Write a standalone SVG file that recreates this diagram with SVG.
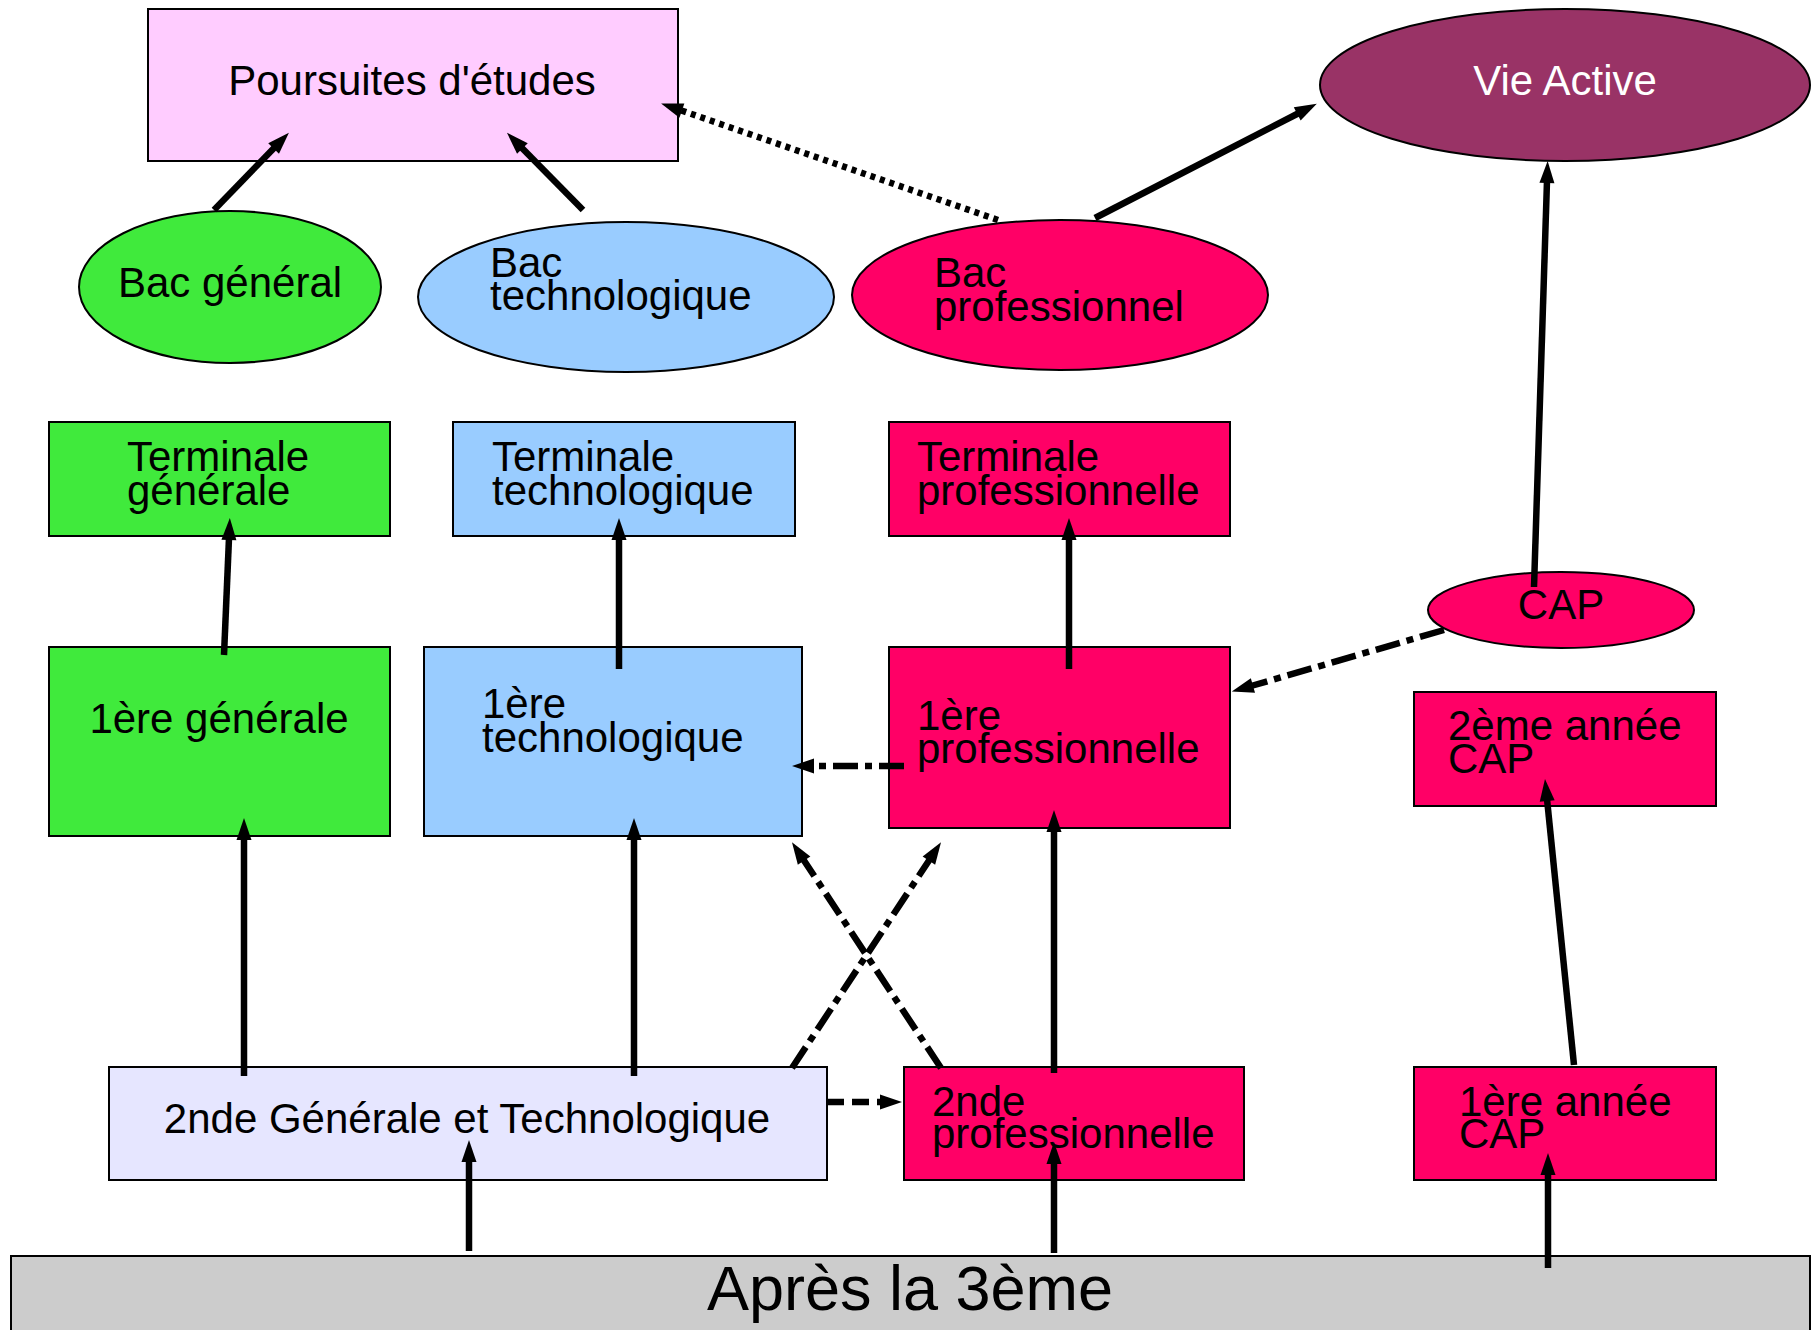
<svg xmlns="http://www.w3.org/2000/svg" width="1812" height="1330" viewBox="0 0 1812 1330">
<style>
.n{stroke:#000;stroke-width:2}
.t{font-family:"Liberation Sans",Arial,sans-serif;font-size:42px;fill:#000}
.c{text-anchor:middle}
.w{fill:#fff}
.e{fill:none;stroke:#000;stroke-width:6.5;marker-end:url(#ah)}
.dot{stroke-dasharray:5 5}
.dd{stroke-dasharray:25 7 7 7}
.dash{stroke-dasharray:17 8}
.green{fill:#40ea3c}.blue{fill:#99ccff}.pink{fill:#ff0066}
</style>
<defs>
<marker id="ah" markerUnits="userSpaceOnUse" markerWidth="24" markerHeight="16" refX="2" refY="7.5" orient="auto" overflow="visible">
<path d="M0,0 L22,7.5 L0,15 z" fill="#000"/>
</marker>
</defs>
<rect width="1812" height="1330" fill="#fff"/>
<g id="poursuites"><rect class="n" x="148" y="9" width="530" height="152" fill="#ffccff"/><text class="t c" x="412" y="95">Poursuites d'études</text></g>
<g id="vie-active"><ellipse class="n" cx="1565" cy="85" rx="245" ry="76" fill="#993366"/><text class="t c w" x="1565" y="95">Vie Active</text></g>
<g id="bac-general"><ellipse class="n green" cx="230" cy="287" rx="151" ry="76"/><text class="t c" x="230" y="297">Bac général</text></g>
<g id="bac-techno"><ellipse class="n blue" cx="626" cy="297" rx="208" ry="75"/><text class="t" x="490" y="277">Bac</text><text class="t" x="490" y="310">technologique</text></g>
<g id="bac-pro"><ellipse class="n pink" cx="1060" cy="295" rx="208" ry="75"/><text class="t" x="934" y="287">Bac</text><text class="t" x="934" y="321">professionnel</text></g>
<g id="term-gen"><rect class="n green" x="49" y="422" width="341" height="114"/><text class="t" x="127" y="471">Terminale</text><text class="t" x="127" y="505">générale</text></g>
<g id="term-techno"><rect class="n blue" x="453" y="422" width="342" height="114"/><text class="t" x="492" y="471">Terminale</text><text class="t" x="492" y="505">technologique</text></g>
<g id="term-pro"><rect class="n pink" x="889" y="422" width="341" height="114"/><text class="t" x="917" y="471">Terminale</text><text class="t" x="917" y="505">professionnelle</text></g>
<g id="premiere-gen"><rect class="n green" x="49" y="647" width="341" height="189"/><text class="t c" x="219" y="733">1ère générale</text></g>
<g id="premiere-techno"><rect class="n blue" x="424" y="647" width="378" height="189"/><text class="t" x="482" y="718">1ère</text><text class="t" x="482" y="752">technologique</text></g>
<g id="premiere-pro"><rect class="n pink" x="889" y="647" width="341" height="181"/><text class="t" x="917" y="730">1ère</text><text class="t" x="917" y="763">professionnelle</text></g>
<g id="cap"><ellipse class="n pink" cx="1561" cy="610" rx="133" ry="38"/><text class="t c" x="1561" y="619">CAP</text></g>
<g id="cap2"><rect class="n pink" x="1414" y="692" width="302" height="114"/><text class="t" x="1448" y="740">2ème année</text><text class="t" x="1448" y="773">CAP</text></g>
<g id="seconde-gt"><rect class="n" x="109" y="1067" width="718" height="113" fill="#e6e6ff"/><text class="t c" x="467" y="1133">2nde Générale et Technologique</text></g>
<g id="seconde-pro"><rect class="n pink" x="904" y="1067" width="340" height="113"/><text class="t" x="932" y="1116">2nde</text><text class="t" x="932" y="1148">professionnelle</text></g>
<g id="cap1"><rect class="n pink" x="1414" y="1067" width="302" height="113"/><text class="t" x="1459" y="1116">1ère année</text><text class="t" x="1459" y="1148">CAP</text></g>
<g id="apres-3eme"><rect class="n" x="11" y="1256" width="1799" height="90" fill="#cccccc"/><text class="t c" x="910" y="1310" style="font-size:63px">Après la 3ème</text></g>
<g id="connectors">
<line class="e" x1="214" y1="210" x2="275" y2="147"/>
<line class="e" x1="583" y1="210" x2="521" y2="147"/>
<line class="e dot" x1="998" y1="220" x2="680" y2="110"/>
<line class="e" x1="1095" y1="218" x2="1299" y2="113"/>
<line class="e" x1="1534" y1="587" x2="1547" y2="181"/>
<line class="e" x1="224" y1="655" x2="229" y2="538"/>
<line class="e" x1="619" y1="669" x2="619" y2="538"/>
<line class="e" x1="1069" y1="669" x2="1069" y2="538"/>
<line class="e dd" x1="904" y1="766" x2="812" y2="766"/>
<line class="e dd" x1="1444" y1="630" x2="1251" y2="686"/>
<line class="e" x1="1574" y1="1065" x2="1547" y2="799"/>
<line class="e" x1="244" y1="1076" x2="244" y2="838"/>
<line class="e" x1="634" y1="1076" x2="634" y2="838"/>
<line class="e dd" x1="792" y1="1068" x2="930" y2="859"/>
<line class="e dd" x1="941" y1="1068" x2="803" y2="859"/>
<line class="e dash" x1="827" y1="1102" x2="882" y2="1102"/>
<line class="e" x1="1054" y1="1073" x2="1054" y2="830"/>
<line class="e" x1="469" y1="1251" x2="469" y2="1160"/>
<line class="e" x1="1054" y1="1253" x2="1054" y2="1162"/>
<line class="e" x1="1548" y1="1268" x2="1548" y2="1173"/>
</g>
</svg>
